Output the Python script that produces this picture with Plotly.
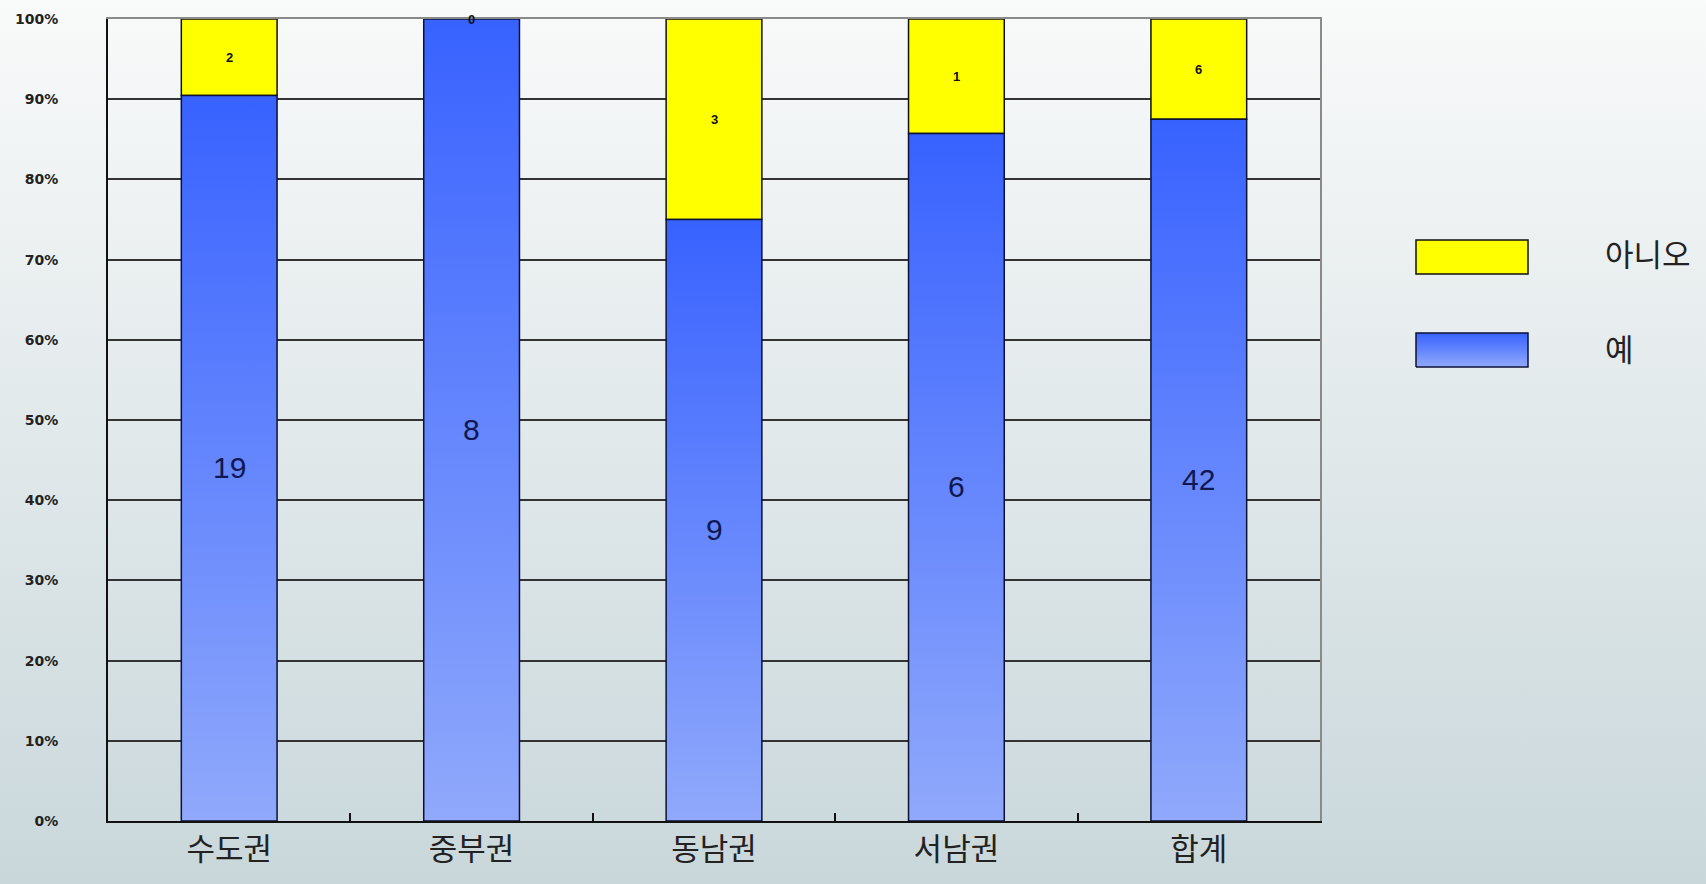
import plotly.graph_objects as go

# ---------------- data ----------------
categories = ["수도권", "중부권", "동남권", "서남권", "합계"]
yes_counts = [19, 8, 9, 6, 42]      # 예
no_counts = [2, 0, 3, 1, 6]         # 아니오
series_names = ["아니오", "예"]
y_ticks = [0, 10, 20, 30, 40, 50, 60, 70, 80, 90, 100]
y_tick_labels = ["0%", "10%", "20%", "30%", "40%", "50%", "60%", "70%", "80%", "90%", "100%"]
grid_vals = [10, 20, 30, 40, 50, 60, 70, 80, 90]

# ---------------- derived ----------------
totals = [a + b for a, b in zip(yes_counts, no_counts)]
yes_pct = [100.0 * a / t for a, t in zip(yes_counts, totals)]
no_pct = [100.0 * b / t for b, t in zip(no_counts, totals)]
xs = list(range(len(categories)))
BAR_W = 0.395

W, H = 1706, 884
X_DOM = [108 / W, 1320 / W]
Y_DOM = [1 - 821 / H, 1 - 19 / H]
BLUE_SCALE = [[0, "#90a9fb"], [1, "#3862ff"]]

fig = go.Figure()

# page background gradient (full-paper helper axes)
fig.add_trace(go.Scatter(
    x=[0, 1, 1, 0, 0], y=[0, 0, 1, 1, 0], fill="toself", mode="none",
    fillgradient=dict(type="vertical", colorscale=[[0, "#c9d7db"], [1, "#f9fafa"]], start=0, stop=1),
    xaxis="x", yaxis="y", hoverinfo="skip", showlegend=False))

# legend swatch for 예 (gradient) in paper fractions
lx0, lx1 = 1416 / W, 1528 / W
ly0, ly1 = 1 - 367 / H, 1 - 333 / H
fig.add_trace(go.Scatter(
    x=[lx0, lx1, lx1, lx0, lx0], y=[ly0, ly0, ly1, ly1, ly0],
    fill="toself", mode="lines", line=dict(color="#0b1236", width=1.5),
    fillgradient=dict(type="vertical", colorscale=BLUE_SCALE, start=ly0, stop=ly1),
    xaxis="x", yaxis="y", hoverinfo="skip", showlegend=False))

# empty helper trace so the overlay axes (grid + gray frame) get drawn
fig.add_trace(go.Scatter(x=[None], y=[None], mode="markers", xaxis="x3", yaxis="y3",
                         hoverinfo="skip", showlegend=False))

# blue (예) bars with vertical gradient
for i, p in zip(xs, yes_pct):
    fig.add_trace(go.Scatter(
        x=[i - BAR_W / 2, i + BAR_W / 2, i + BAR_W / 2, i - BAR_W / 2, i - BAR_W / 2],
        y=[0, 0, p, p, 0], fill="toself", mode="lines",
        line=dict(color="#0b1236", width=1.5),
        fillgradient=dict(type="vertical", colorscale=BLUE_SCALE, start=0, stop=p),
        xaxis="x2", yaxis="y2", hoverinfo="skip", showlegend=False, name=series_names[1]))

# yellow (아니오) bars stacked on top
fig.add_trace(go.Bar(
    x=xs, y=no_pct, base=yes_pct, width=BAR_W, name=series_names[0],
    marker=dict(color="#ffff00", line=dict(color="#111111", width=1.5)),
    xaxis="x2", yaxis="y2", showlegend=False, hoverinfo="skip"))

# value labels
for i, p, v in zip(xs, yes_pct, yes_counts):
    fig.add_annotation(x=i, y=p / 2, xref="x2", yref="y2", text=str(v), showarrow=False,
                       yshift=-9, font=dict(family="Liberation Sans, Arial", size=30, color="#0f1850"))
for i, a, b, v in zip(xs, yes_pct, no_pct, no_counts):
    fig.add_annotation(x=i, y=a + b / 2, xref="x2", yref="y2", text=str(v), showarrow=False,
                       font=dict(family="Liberation Sans, Arial", size=13, color="#111111", weight="bold"))

# custom legend
fig.add_shape(type="rect", xref="paper", yref="paper", x0=lx0, x1=lx1,
              y0=1 - 274 / H, y1=1 - 240 / H, fillcolor="#ffff00",
              line=dict(color="#111111", width=1.5))
for name, yc in zip(series_names, [1 - 253 / H, 1 - 348 / H]):
    fig.add_annotation(text=name, xref="paper", yref="paper", x=1603 / W, y=yc,
                       xanchor="left", yanchor="middle", showarrow=False,
                       font=dict(family="Noto Sans CJK KR", size=31, color="#222222"))

fig.update_layout(
    width=W, height=H, margin=dict(l=0, r=0, t=0, b=0, pad=0, autoexpand=False),
    paper_bgcolor="#f0f3f4", plot_bgcolor="rgba(0,0,0,0)",
    xaxis=dict(domain=[0, 1], range=[0, 1], visible=False, fixedrange=True, automargin=False),
    yaxis=dict(domain=[0, 1], range=[0, 1], visible=False, fixedrange=True, automargin=False),
    xaxis2=dict(domain=X_DOM, anchor="y2", range=[-0.5, 4.5], automargin=False,
                tickmode="array", tickvals=xs, ticktext=categories, ticks="",
                showline=True, linecolor="#111111", linewidth=2,
                showgrid=False, zeroline=False, ticklabelstandoff=0,
                tickfont=dict(family="Noto Sans CJK KR", size=31, color="#222222"),
                minor=dict(tickvals=[0.5, 1.5, 2.5, 3.5], ticks="inside", ticklen=8,
                           tickcolor="#111111", tickwidth=1.5, showgrid=False)),
    # top frame line (gray)
    xaxis3=dict(overlaying="x2", anchor="y3", side="top", range=[-0.5, 4.5], automargin=False,
                showline=True, linecolor="#8a8a8a", linewidth=2, layer="below traces",
                showticklabels=False, ticks="", showgrid=False, zeroline=False),
    yaxis2=dict(domain=Y_DOM, anchor="x2", range=[0, 100], automargin=False,
                tickmode="array", tickvals=y_ticks, ticktext=y_tick_labels, ticks="",
                showline=True, linecolor="#111111", linewidth=2,
                showgrid=False, zeroline=False, ticklabelstandoff=45,
                tickfont=dict(family="DejaVu Sans", size=14, color="#222222", weight="bold")),
    # gridlines + right frame line (gray)
    yaxis3=dict(overlaying="y2", anchor="x3", side="right", range=[0, 100], automargin=False,
                tickmode="array", tickvals=grid_vals, showticklabels=False, ticks="",
                showgrid=True, gridcolor="#333333", gridwidth=2, zeroline=False,
                showline=True, linecolor="#8a8a8a", linewidth=2, layer="below traces"),
)

fig.write_html("out.html", config={"displayModeBar": False},
               post_script="document.body.style.margin='0';document.body.style.overflow='hidden';")
